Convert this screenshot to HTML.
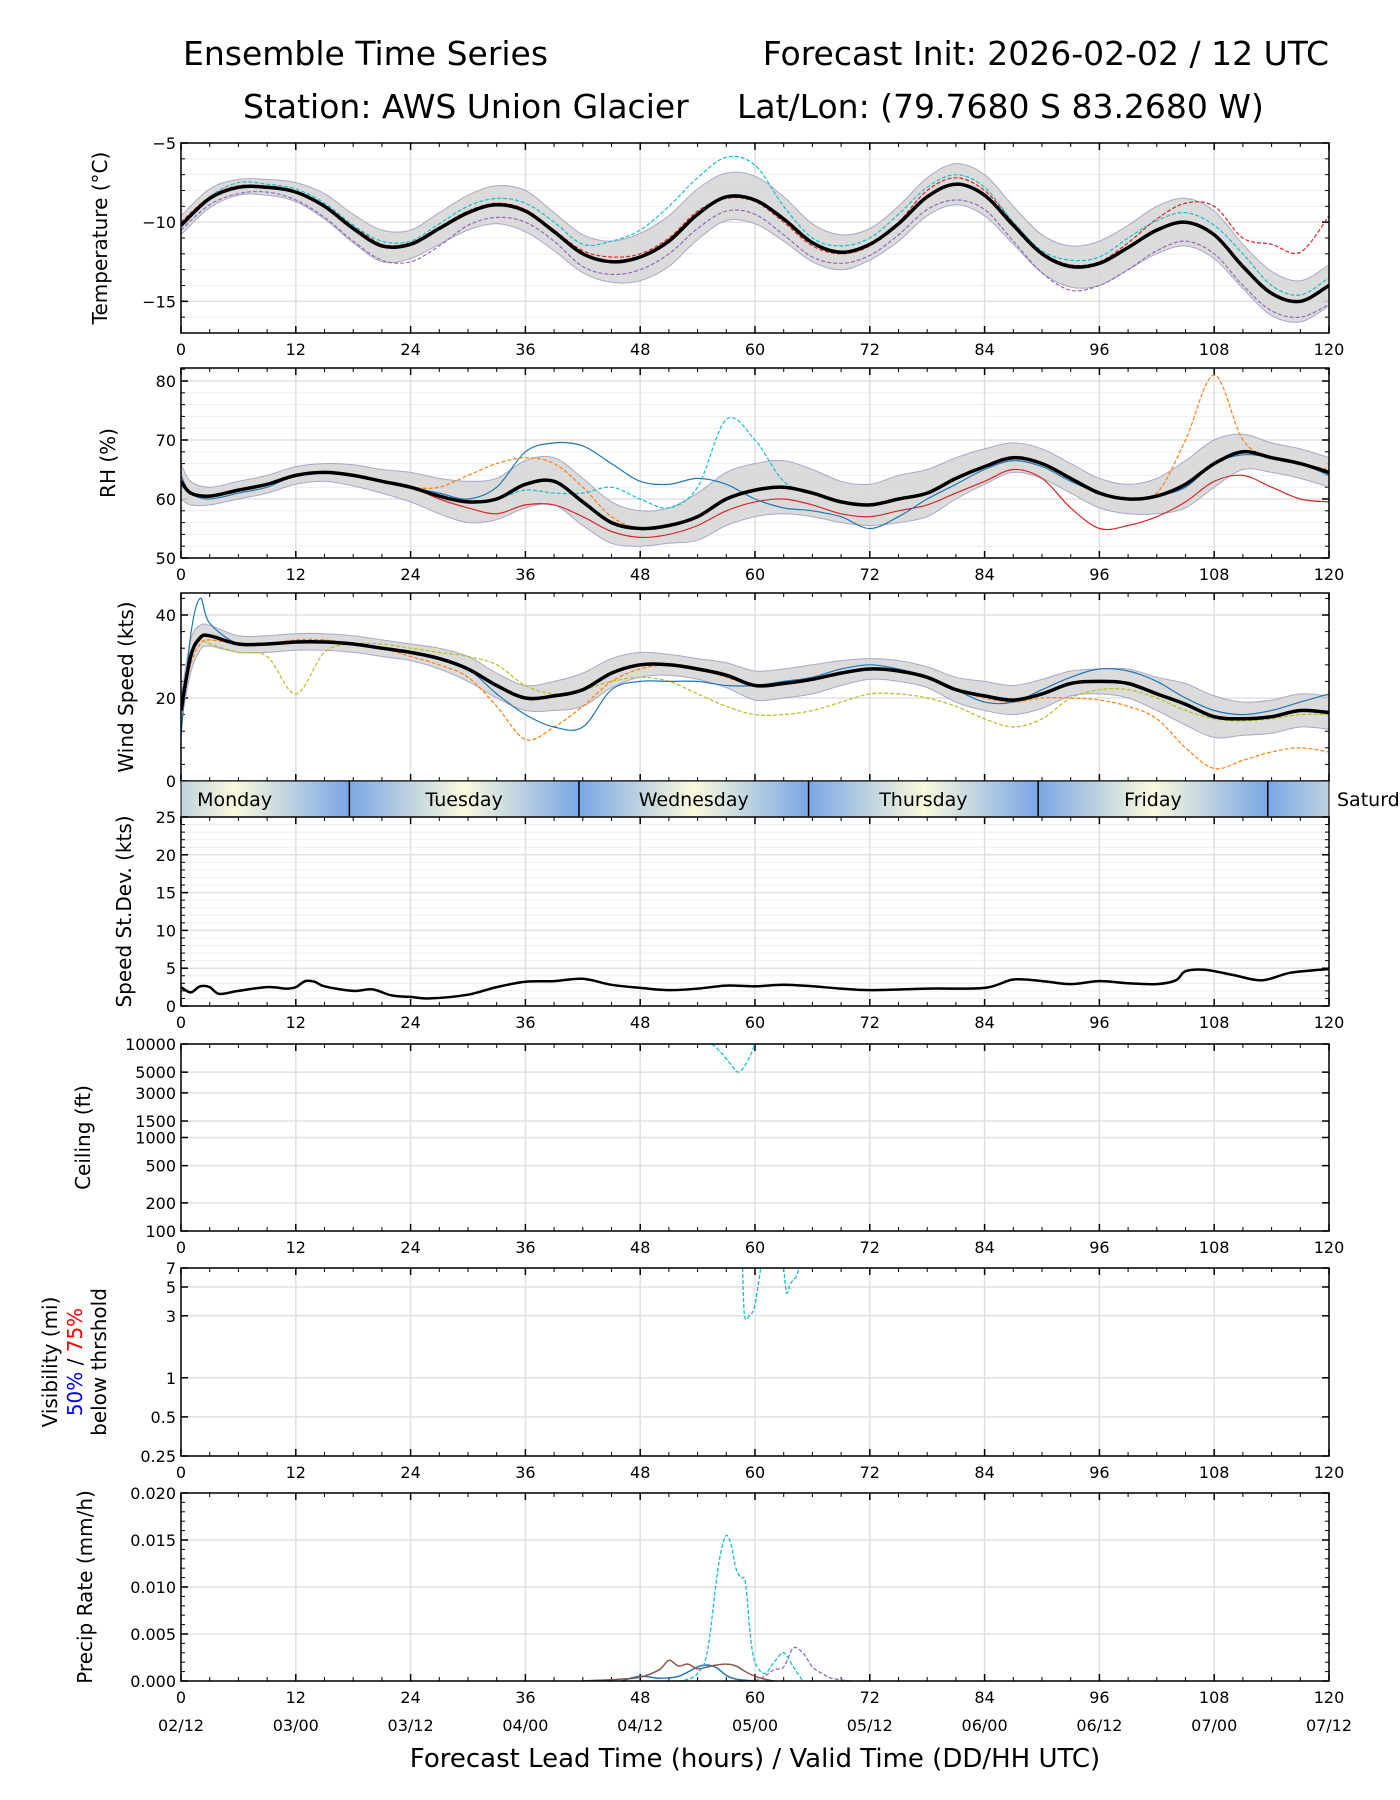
<!DOCTYPE html>
<html><head><meta charset="utf-8">
<style>
html,body{margin:0;padding:0;background:#fff;}
svg{display:block;font-family:"DejaVu Sans","Liberation Sans",sans-serif;}
</style></head>
<body>
<svg id="chart" width="1400" height="1800" viewBox="0 0 1400 1800" xmlns="http://www.w3.org/2000/svg">
<text x="183" y="65" font-size="33">Ensemble Time Series</text>
<text x="1329" y="65" font-size="33" text-anchor="end">Forecast Init: 2026-02-02 / 12 UTC</text>
<text x="243" y="118" font-size="33">Station: AWS Union Glacier</text>
<text x="737" y="118" font-size="33">Lat/Lon: (79.7680 S 83.2680 W)</text>
<text x="755" y="1767" font-size="26" text-anchor="middle">Forecast Lead Time (hours) / Valid Time (DD/HH UTC)</text>
</svg>
<script>
// ---------- data ----------
const tHours=[0,3,6,9,12,15,18,21,24,27,30,33,36,39,42,45,48,51,54,57,60,63,66,69,72,75,78,81,84,87,90,93,96,99,102,105,108,111,114,117,120];
const tempMean=[-10.2,-8.5,-7.8,-7.8,-8.1,-9.0,-10.4,-11.5,-11.4,-10.4,-9.4,-8.9,-9.3,-10.6,-12.0,-12.5,-12.2,-11.2,-9.5,-8.4,-8.6,-9.8,-11.3,-11.9,-11.4,-10.1,-8.4,-7.6,-8.3,-10.2,-12.0,-12.8,-12.6,-11.6,-10.5,-10.0,-10.8,-12.8,-14.5,-15.0,-14.0];
const tempSpread=[0.6,0.6,0.5,0.5,0.6,0.8,0.9,1.0,0.9,1.0,1.1,1.2,1.3,1.2,1.2,1.3,1.5,1.6,1.6,1.5,1.5,1.4,1.2,1.1,1.0,1.1,1.2,1.3,1.3,1.2,1.2,1.3,1.4,1.4,1.5,1.5,1.5,1.4,1.4,1.3,1.3];
const tempCyan=[-10.3,-8.4,-7.5,-7.6,-7.9,-8.8,-10.2,-11.2,-11.2,-10.1,-9.0,-8.5,-8.8,-10.0,-11.4,-11.2,-10.5,-9.0,-7.2,-5.9,-6.4,-9.0,-11.0,-11.5,-11.0,-9.5,-7.8,-7.0,-7.8,-10.0,-11.8,-12.4,-12.2,-11.0,-9.9,-9.4,-10.2,-12.0,-14.0,-14.6,-13.5];
const tempRed=[-10.0,-8.4,-7.7,-7.8,-8.1,-8.9,-10.2,-11.4,-11.3,-10.3,-9.3,-8.8,-9.2,-10.5,-11.8,-12.2,-12.0,-11.0,-9.3,-8.5,-8.7,-10.0,-11.5,-12.0,-11.5,-10.0,-8.0,-7.2,-8.0,-10.0,-11.9,-12.7,-12.5,-11.3,-9.8,-8.8,-9.0,-11.0,-11.4,-11.9,-9.6];
const tempPurple=[-10.5,-8.9,-8.2,-8.1,-8.6,-9.7,-11.2,-12.4,-12.5,-11.5,-10.2,-9.7,-10.0,-11.2,-12.8,-13.3,-13.0,-12.0,-10.4,-9.3,-9.5,-10.8,-12.2,-12.6,-12.1,-10.8,-9.2,-8.6,-9.2,-11.2,-13.2,-14.3,-14.0,-13.0,-11.8,-11.2,-12.0,-14.0,-15.6,-16.0,-15.2];
const rhHours=[0,1,3,6,9,12,15,18,21,24,27,30,33,36,39,42,45,48,51,54,57,60,63,66,69,72,75,78,81,84,87,90,93,96,99,102,105,108,111,114,117,120];
const rhMean=[63,61,60.5,61.5,62.5,64,64.5,64,63,62,60.5,59.5,60,62.5,63,59.5,56,55,55.5,57,60,61.5,62,61,59.5,59,60,61,63.5,65.5,67,66,63.5,61,60,60.5,62.5,66,68,67,66,64.5];
const rhSpread=[3,2,1.5,1.5,1.5,1.5,1.5,1.8,2,2.5,3,3.5,3.5,4,4,4,3.5,3,3,4,4.5,4.5,4.5,4,3.5,3.5,4,4,3.5,3,2.5,2.5,2.5,2.5,2.5,3,4,4,3,2.5,2.5,2.5];
const rhBlue=[64,61,60,61,62,64,64.5,64,63,62,61,60,62,68,69.5,69,66,63,62.5,63.5,62.5,60,58.5,58,57,55,57,60,62.5,65,66.5,65.5,63,61,60,60.5,62,66,67.5,67,66,64];
const rhCyanD=[63,61,60.5,61.5,62.5,64,64.5,64,63,62,60.5,59.5,60,61.5,61,61,62,60,58.5,62,73.5,70,63,61,59.5,59,60,61,63.5,65.5,67,66,63.5,61,60,60.5,62.5,66,68,67,66,64.5];
const rhOrange=[63,61,60.5,61.5,62.5,64,64.5,64,63,62,62,64,66,67,66,62,57,55,55.5,57,60,61.5,62,61,59.5,59,60,61,63.5,65.5,67,66,63.5,61,60,61,70,81,70,67,66,65];
const rhRed=[63,61,60.5,61.5,62.5,64,64.5,64,63,62,60,58.5,57.5,59,59,57,54.5,53.5,54,55.5,58,59.5,60,59,57.5,57,58,59,61,63,65,63.5,58.5,55,55.5,57,59.5,63,64,62,60,59.5];
const wsHours=[0,1,2,3,6,9,12,15,18,21,24,27,30,33,36,39,42,45,48,51,54,57,60,63,66,69,72,75,78,81,84,87,90,93,96,99,102,105,108,111,114,117,120];
const wsMean=[17,30,34.5,35,33,33,33.5,33.5,33,32,31,29.5,27,23,20,20.5,22,26,28,28,27,25.5,23,23.5,24.5,26,27,26.5,25,22,20.5,19.5,21,23.5,24,23.5,21,18.5,15.5,15,15.5,17,16.5];
const wsSpread=[3,4,3,2.5,2,2,2,2,2,2,2,2.5,3,3,3,3.5,4,3.5,3,2.5,2.5,3,3.5,3.5,3.5,3,2.5,2.5,2.5,3,3.5,3.5,3.5,3,3,3.5,4,5,5,4,4,4,4];
const wsOrange=[17,28,33,34,33,33,34,34,33,32,30,28,25,18,10,13,18,24,27,28,27,25,23,23.5,24.5,26,27,26.5,25,22,20,19,20,20,19.5,18,15,8,3,5,7,8,7];
const wsOlive=[17,30,34,33,31,30,21,31,33,33,32,31,30,28,23,21,22,24,25,24,21,18,16,16,17,19,21,21,20,18,15,13,15,20,22,22,20,17,15,14.5,15,16,16];
const wsBlue=[11,35,44,38,33,33,33.5,33.5,33,32,31,29.5,27,21,16,13,13,22,24,24,24,23,23,24,25,27,28,27,25,22,19,19,22,25,27,26.5,24,20,17,16,17,19,21];
const sdHours=[0,1,2,3,4,6,9,11,12,13,14,15,18,20,22,24,26,30,33,36,39,42,45,48,51,54,57,60,63,66,69,72,78,84,87,90,93,96,99,102,104,105,107,110,113,116,120];
const sdVals=[2.5,1.8,2.6,2.5,1.6,2.0,2.5,2.3,2.5,3.3,3.2,2.6,2.0,2.2,1.4,1.2,1.0,1.5,2.5,3.2,3.3,3.6,2.8,2.4,2.1,2.3,2.7,2.6,2.8,2.6,2.3,2.1,2.3,2.4,3.5,3.3,2.9,3.3,3.0,2.9,3.4,4.6,4.8,4.1,3.4,4.4,4.9];
const ceilHours=[55.5,56.5,57.5,58.3,59.2,60];
const ceilVals=[10000,8000,6000,5000,6500,10000];
const visHours1=[58.7,58.9,59.4,59.9,60.3,60.6];
const visVals1=[7,3,3,3.4,5,7];
const visHours2=[63.0,63.3,63.7,64.3,64.6];
const visVals2=[7,4.5,5.3,6,7];
const prHours=[52,53,54,55,56,56.5,57,57.5,58,58.5,59,59.5,60,61,62,63,64,65];
const prCyan=[0,0.0002,0.0008,0.003,0.011,0.014,0.0155,0.0145,0.012,0.011,0.0105,0.005,0.002,0.0008,0.002,0.003,0.0015,0];
const prBrownH=[42,44,46,48,50,51,52,53,54,55,56,57,58,59,60,61,62];
const prBrown=[0,0.0001,0.0002,0.0004,0.0012,0.0022,0.0016,0.0018,0.0013,0.0015,0.0017,0.0018,0.0016,0.001,0.0005,0.0002,0];
const prPurpleH=[60,61,62,63,64,65,66,67,68,70];
const prPurple=[0,0.0005,0.0012,0.0015,0.0035,0.003,0.0015,0.0008,0.0003,0];
const prBlueH=[46,48,50,52,54,55,56,57,58,60];
const prBlue=[0,0.0005,0.0003,0.0005,0.0015,0.0017,0.0014,0.0006,0.0002,0];
const xTicks=[0,12,24,36,48,60,72,84,96,108,120];
const dateLabels=["02/12","03/00","03/12","04/00","04/12","05/00","05/12","06/00","06/12","07/00","07/12"];
const dayNames=["Monday","Tuesday","Wednesday","Thursday","Friday"];
const dayStarts=[-6.4,17.6,41.6,65.6,89.6,113.6];

// ---------- helpers ----------
const NS="http://www.w3.org/2000/svg";
const svg=document.getElementById('chart');
const L=181,R=1329;
const X=h=>L+h*(R-L)/120;
function mk(tag,attrs,parent){const e=document.createElementNS(NS,tag);for(const k in attrs)e.setAttribute(k,attrs[k]);(parent||svg).appendChild(e);return e;}
function smooth(pts){let d=`M${pts[0][0].toFixed(1)},${pts[0][1].toFixed(1)}`;for(let i=0;i<pts.length-1;i++){const p0=pts[i-1]||pts[i],p1=pts[i],p2=pts[i+1],p3=pts[i+2]||p2;const c1=[p1[0]+(p2[0]-p0[0])/6,p1[1]+(p2[1]-p0[1])/6],c2=[p2[0]-(p3[0]-p1[0])/6,p2[1]-(p3[1]-p1[1])/6];d+=`C${c1[0].toFixed(1)},${c1[1].toFixed(1)} ${c2[0].toFixed(1)},${c2[1].toFixed(1)} ${p2[0].toFixed(1)},${p2[1].toFixed(1)}`;}return d;}
let clipN=0;
function panel(name,top,bot,Y,yt,ylabels,minorY,title,xlabels,gridMinor){
  const g=mk('g',{});
  
  
  const cid='clip'+(clipN++);
  const cp=mk('clipPath',{id:cid},g);mk('rect',{x:L,y:top,width:R-L,height:bot-top},cp);
  if(gridMinor) minorY.forEach(v=>mk('line',{x1:L,x2:R,y1:Y(v),y2:Y(v),stroke:'#eeeeee','stroke-width':1},g));
  yt.forEach(v=>mk('line',{x1:L,x2:R,y1:Y(v),y2:Y(v),stroke:'#e0e0e0','stroke-width':1.5},g));
  xTicks.forEach(h=>mk('line',{x1:X(h),x2:X(h),y1:top,y2:bot,stroke:'#e0e0e0','stroke-width':1.5},g));
  for(let h=0;h<=120;h+=3){const maj=h%12==0;mk('line',{x1:X(h),x2:X(h),y1:bot,y2:bot-(maj?7:4),stroke:'#000','stroke-width':maj?1.5:1},g);mk('line',{x1:X(h),x2:X(h),y1:top,y2:top+(maj?7:4),stroke:'#000','stroke-width':maj?1.5:1},g);}
  yt.forEach(v=>{mk('line',{x1:L,x2:L+7,y1:Y(v),y2:Y(v),stroke:'#000','stroke-width':1.5},g);mk('line',{x1:R,x2:R-7,y1:Y(v),y2:Y(v),stroke:'#000','stroke-width':1.5},g);});
  minorY.forEach(v=>{mk('line',{x1:L,x2:L+4,y1:Y(v),y2:Y(v),stroke:'#000','stroke-width':1},g);mk('line',{x1:R,x2:R-4,y1:Y(v),y2:Y(v),stroke:'#000','stroke-width':1},g);});
  yt.forEach((v,i)=>{const t=mk('text',{x:L-5,y:Y(v)+6,'font-size':16,'text-anchor':'end'},g);t.textContent=ylabels[i];});
  if(xlabels){xTicks.forEach(h=>{const t=mk('text',{x:X(h),y:bot+22,'font-size':16,'text-anchor':'middle'},g);t.textContent=String(h);});}
  const inner=mk('g',{'clip-path':`url(#${cid})`},g);
  mk('rect',{x:L,y:top,width:R-L,height:bot-top,fill:'none',stroke:'#000','stroke-width':1.5},g);
  if(title){const t=mk('text',{transform:`translate(${title.x},${(top+bot)/2}) rotate(-90)`,'font-size':20,'text-anchor':'middle'},g);t.textContent=title.text;}
  return inner;
}
function line(g,hs,vs,Y,color,w,dash,name){
  const p=mk('path',{d:smooth(hs.map((h,i)=>[X(h),Y(vs[i])])),fill:'none',stroke:color,'stroke-width':w},g);
  if(dash)p.setAttribute('stroke-dasharray',dash);
  
  
  return p;
}
function band(g,hs,mean,sp,Y,name){
  const up=hs.map((h,i)=>[X(h),Y(mean[i]+sp[i])]);const lo=hs.map((h,i)=>[X(h),Y(mean[i]-sp[i])]).reverse();
  const d=smooth(up)+'L'+smooth(lo).slice(1)+'Z';
  const p=mk('path',{d:d,fill:'#d8d8d8',stroke:'#a0a0c0','stroke-width':1,opacity:0.9},g);
  
  
}
const range=(a,b,s)=>{const r=[];for(let v=a;v<=b+1e-9;v+=s)r.push(+v.toFixed(6));return r;};

// ---------- temperature ----------
{const top=143,bot=333,Y=v=>top+(-5-v)*(bot-top)/12;
const g=panel('temperature',top,bot,Y,[-5,-10,-15],['−5','−10','−15'],range(-17,-5,1),{x:107,text:'Temperature (°C)'},true,true);
band(g,tHours,tempMean,tempSpread,Y,'temperature-spread-band');
line(g,tHours,tempPurple,Y,'#9467bd',1.2,'4,2','temperature-member-purple');
line(g,tHours,tempRed,Y,'#d62728',1.2,'4,2','temperature-member-red');
line(g,tHours,tempCyan,Y,'#17becf',1.2,'4,2','temperature-member-cyan');
line(g,tHours,tempMean,Y,'#000',3.5,null,'temperature-mean-line');}

// ---------- RH ----------
{const top=368,bot=558,Y=v=>bot-(v-50)*(bot-381)/30;
const g=panel('rh',top,bot,Y,[50,60,70,80],['50','60','70','80'],range(50,82,2),{x:160-45,text:'RH (%)'},true,true);
band(g,rhHours,rhMean,rhSpread,Y,'rh-spread-band');
line(g,rhHours,rhRed,Y,'#d62728',1.2,null,'rh-member-red');
line(g,rhHours,rhBlue,Y,'#1f77b4',1.2,null,'rh-member-blue');
line(g,rhHours,rhOrange,Y,'#ff7f0e',1.2,'4,2','rh-member-orange');
line(g,rhHours,rhCyanD,Y,'#17becf',1.2,'4,2','rh-member-cyan');
line(g,rhHours,rhMean,Y,'#000',3.5,null,'rh-mean-line');}

// ---------- wind ----------
{const top=593,bot=781,Y=v=>bot-v*(bot-615)/40;
const g=panel('wind-speed',top,bot,Y,[0,20,40],['0','20','40'],range(0,44,4),{x:133,text:'Wind Speed (kts)'},false,false);
band(g,wsHours,wsMean,wsSpread,Y,'wind-spread-band');
line(g,wsHours,wsOlive,Y,'#bcbd22',1.2,'4,2','wind-member-olive');
line(g,wsHours,wsOrange,Y,'#ff7f0e',1.2,'4,2','wind-member-orange');
line(g,wsHours,wsBlue,Y,'#1f77b4',1.2,null,'wind-member-blue');
line(g,wsHours,wsMean,Y,'#000',3.5,null,'wind-mean-line');}

// ---------- day band ----------
{const top=781,bot=817;const defs=mk('defs',{});
const gb=mk('g',{});
const cp=mk('clipPath',{id:'dayclip'},defs);mk('rect',{x:L,y:top,width:R-L,height:bot-top},cp);
const gr=mk('linearGradient',{id:'dayg',x1:0,x2:1,y1:0,y2:0},defs);
[[0,'#7aa6e6'],[0.5,'#fbfadc'],[1,'#7aa6e6']].forEach(s=>mk('stop',{offset:s[0],'stop-color':s[1]},gr));
const inner=mk('g',{'clip-path':'url(#dayclip)'},gb);
dayStarts.forEach(s=>{mk('rect',{x:X(s),y:top,width:X(s+24)-X(s),height:bot-top,fill:'url(#dayg)'},inner);});
dayStarts.slice(1).forEach(s=>mk('line',{x1:X(s),x2:X(s),y1:top,y2:bot,stroke:'#000','stroke-width':1.5},gb));
dayNames.forEach((n,i)=>{const c=i==0?5.6:dayStarts[i]+12;const t=mk('text',{x:X(c),y:top+25,'font-size':19,'text-anchor':'middle'},gb);t.textContent=n;});
const t=mk('text',{x:1337,y:top+25,'font-size':19},gb);t.textContent='Saturday';
mk('rect',{x:L,y:top,width:R-L,height:bot-top,fill:'none',stroke:'#000','stroke-width':1},gb);}

// ---------- std dev ----------
{const top=817,bot=1006,Y=v=>bot-v*(bot-top)/25;
const g=panel('speed-stdev',top,bot,Y,[0,5,10,15,20,25],['0','5','10','15','20','25'],range(0,25,1),{x:131,text:'Speed St.Dev. (kts)'},true,true);
line(g,sdHours,sdVals,Y,'#000',2.5,null,'stdev-line');}

// ---------- ceiling ----------
{const top=1044,bot=1231,lo=Math.log10(100),hi=Math.log10(10000),Y=v=>bot-(Math.log10(v)-lo)*(bot-top)/(hi-lo);
const vals=[100,200,500,1000,1500,3000,5000,10000];
const g=panel('ceiling',top,bot,Y,vals,vals.map(String),[],{x:90,text:'Ceiling (ft)'},true,false);
line(g,ceilHours,ceilVals,Y,'#17becf',1.3,'4,2','ceiling-member-cyan');}

// ---------- visibility ----------
{const top=1268,bot=1456,lo=Math.log10(0.25),hi=Math.log10(7),Y=v=>bot-(Math.log10(v)-lo)*(bot-top)/(hi-lo);
const vals=[0.25,0.5,1,3,5,7];
const g=panel('visibility',top,bot,Y,vals,vals.map(String),[],null,true,false);
line(g,visHours1,visVals1,Y,'#17becf',1.3,'4,2','visibility-member-cyan');
line(g,visHours2,visVals2,Y,'#17becf',1.3,'4,2','visibility-member-cyan-2');
const cy=(top+bot)/2;
const t1=mk('text',{transform:`translate(57,${cy}) rotate(-90)`,'font-size':20,'text-anchor':'middle'});t1.textContent='Visibility (mi)';
const t2=mk('text',{transform:`translate(82,${cy}) rotate(-90)`,'font-size':20,'text-anchor':'middle'});
const a=mk('tspan',{fill:'#0000ff'},t2);a.textContent='50%';const b=mk('tspan',{},t2);b.textContent=' / ';const c=mk('tspan',{fill:'#ff0000'},t2);c.textContent='75%';
const t3=mk('text',{transform:`translate(106,${cy}) rotate(-90)`,'font-size':20,'text-anchor':'middle'});t3.textContent='below thrshold';}

// ---------- precip ----------
{const top=1493,bot=1681,Y=v=>bot-v*(bot-top)/0.02;
const vals=[0,0.005,0.01,0.015,0.02];
const g=panel('precip',top,bot,Y,vals,vals.map(v=>v.toFixed(3)),range(0,0.02,0.001),{x:92,text:'Precip Rate (mm/h)'},true,false);
line(g,prBlueH,prBlue,Y,'#1f77b4',1.5,null,'precip-member-blue');
line(g,prBrownH,prBrown,Y,'#8c564b',1.5,null,'precip-member-brown');
line(g,prPurpleH,prPurple,Y,'#9467bd',1.3,'4,2','precip-member-purple');
line(g,prHours,prCyan,Y,'#17becf',1.3,'4,2','precip-member-cyan');
xTicks.forEach((h,i)=>{const t=mk('text',{x:X(h),y:bot+50,'font-size':16,'text-anchor':'middle'});t.textContent=dateLabels[i];});}
</script>
</body></html>
